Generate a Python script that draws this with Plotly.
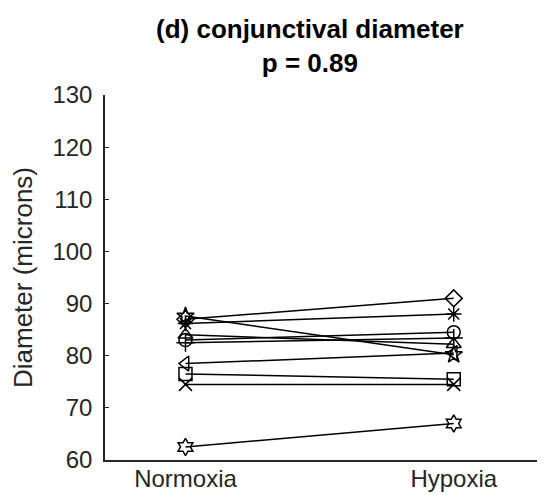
import plotly.graph_objects as go

conditions = ["Normoxia", "Hypoxia"]
x_positions = [1, 2]

subj_circle = [83.0, 84.5]
subj_plus = [82.5, 83.4]
subj_asterisk = [86.2, 88.0]
subj_x = [74.5, 74.5]
subj_square = [76.5, 75.5]
subj_diamond = [87.0, 91.0]
subj_triangle_left = [78.5, 80.5]
subj_pentagram = [87.6, 80.2]
subj_hexagram = [62.5, 67.0]
subj_triangle_up = [84.0, 82.2]

series = [
    (subj_circle, "circle-open"),
    (subj_plus, "cross-thin-open"),
    (subj_asterisk, "asterisk-open"),
    (subj_x, "x-thin-open"),
    (subj_square, "square-open"),
    (subj_diamond, "diamond-open"),
    (subj_triangle_left, "triangle-left-open"),
    (subj_pentagram, "star-open"),
    (subj_hexagram, "hexagram-open"),
    (subj_triangle_up, "triangle-up-open"),
]

y_ticks = [60, 70, 80, 90, 100, 110, 120, 130]

fig = go.Figure()
for vals, sym in series:
    fig.add_trace(go.Scatter(
        x=x_positions, y=vals, mode="lines+markers",
        line=dict(color="black", width=1.5),
        marker=dict(symbol=sym, size=13, color="black",
                    line=dict(color="black", width=1.5)),
        showlegend=False,
    ))

axis_color = "#262626"
fig.update_layout(
    width=545, height=495,
    margin=dict(l=97, r=0, t=87, b=43),
    paper_bgcolor="white", plot_bgcolor="white",
    font=dict(family="Liberation Sans, Arial, sans-serif", color=axis_color),
    xaxis=dict(
        range=[0.7, 2.37], tickvals=x_positions, ticktext=conditions,
        showline=True, linecolor=axis_color, linewidth=1.5,
        ticks="", showgrid=False, zeroline=False,
        ticklabelstandoff=-4,
        tickfont=dict(size=24, color=axis_color),
    ),
    yaxis=dict(
        range=[60, 130], tickvals=y_ticks,
        showline=True, linecolor=axis_color, linewidth=1.5,
        ticks="inside", ticklen=4, tickwidth=1, tickcolor=axis_color,
        ticklabelstandoff=6,
        showgrid=False, zeroline=False,
        tickfont=dict(size=24, color=axis_color),
        title=dict(text="Diameter (microns)", font=dict(size=26, color=axis_color), standoff=14),
    ),
    annotations=[
        dict(text="<b>(d) conjunctival diameter</b><br><b>p = 0.89</b>",
             x=(302 - 97) / 448, xref="paper", y=(452 - 38) / 365, yref="paper",
             xanchor="center", yanchor="middle", showarrow=False,
             font=dict(size=26, color="black"), align="center"),
    ],
)

fig.write_html("out.html")
